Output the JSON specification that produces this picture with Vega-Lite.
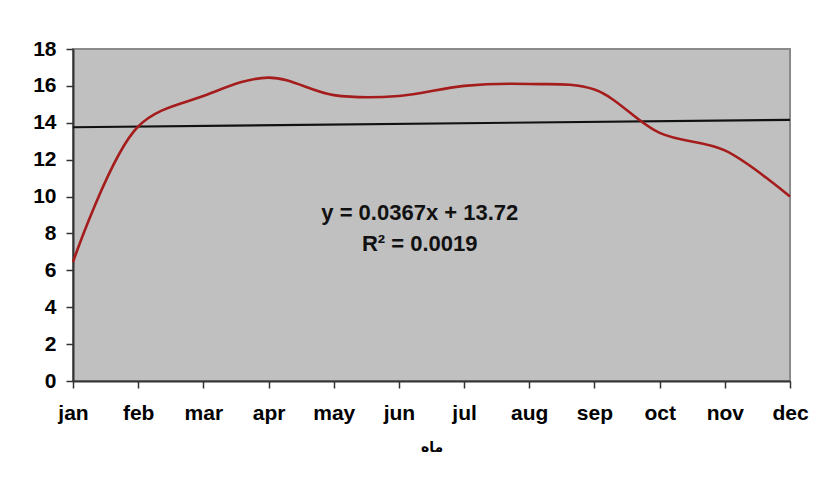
{
  "$schema": "https://vega.github.io/schema/vega-lite/v6.json",
  "width": 717,
  "height": 332,
  "autosize": "none",
  "padding": {"left": 73, "top": 49, "right": 30, "bottom": 101},
  "background": "white",
  "config": {
    "view": {"fill": "#c0c0c0", "stroke": "#8a8a8a", "strokeWidth": 2},
    "font": "Liberation Sans"
  },
  "datasets": {
    "temp": [
      {"m": 1, "month": "jan", "value": 6.45},
      {"m": 2, "month": "feb", "value": 13.8},
      {"m": 3, "month": "mar", "value": 15.45},
      {"m": 4, "month": "apr", "value": 16.45},
      {"m": 5, "month": "may", "value": 15.5},
      {"m": 6, "month": "jun", "value": 15.45},
      {"m": 7, "month": "jul", "value": 16.0},
      {"m": 8, "month": "aug", "value": 16.1},
      {"m": 9, "month": "sep", "value": 15.8},
      {"m": 10, "month": "oct", "value": 13.45},
      {"m": 11, "month": "nov", "value": 12.5},
      {"m": 12, "month": "dec", "value": 10.0}
    ],
    "trend": [
      {"m": 1, "value": 13.757},
      {"m": 12, "value": 14.160}
    ],
    "labels": [
      {"m": 6.32, "value": 9.1, "text": "y = 0.0367x + 13.72"},
      {"m": 6.32, "value": 7.45, "text": "R² = 0.0019"}
    ]
  },
  "encoding": {
    "x": {
      "field": "m",
      "type": "quantitative",
      "scale": {"domain": [1, 12], "nice": false, "zero": false},
      "axis": {
        "title": "ماه",
        "values": [1, 2, 3, 4, 5, 6, 7, 8, 9, 10, 11, 12],
        "labelExpr": "['jan','feb','mar','apr','may','jun','jul','aug','sep','oct','nov','dec'][datum.value - 1]",
        "grid": false,
        "domainColor": "#333333",
        "domainWidth": 2,
        "tickColor": "#333333",
        "tickWidth": 1.5,
        "tickSize": 7,
        "labelPadding": 14,
        "labelFont": "Liberation Sans",
        "labelFontSize": 21,
        "labelFontWeight": "bold",
        "labelColor": "#000000",
        "labelFlush": false,
        "labelOverlap": false,
        "titleFont": "DejaVu Sans",
        "titleFontSize": 14,
        "titleFontWeight": "bold",
        "titleColor": "#000000",
        "titlePadding": 17
      }
    },
    "y": {
      "field": "value",
      "type": "quantitative",
      "scale": {"domain": [0, 18], "nice": false},
      "axis": {
        "title": null,
        "values": [0, 2, 4, 6, 8, 10, 12, 14, 16, 18],
        "grid": false,
        "domainColor": "#333333",
        "domainWidth": 2,
        "tickColor": "#333333",
        "tickWidth": 1.5,
        "tickSize": 7,
        "labelPadding": 10,
        "labelFont": "Liberation Sans",
        "labelFontSize": 21,
        "labelFontWeight": "bold",
        "labelColor": "#000000"
      }
    }
  },
  "layer": [
    {
      "data": {"name": "trend"},
      "mark": {"type": "line", "color": "#111111", "strokeWidth": 2.2}
    },
    {
      "data": {"name": "temp"},
      "mark": {"type": "line", "color": "#a51c1c", "strokeWidth": 2.6, "interpolate": "catmull-rom"}
    },
    {
      "data": {"name": "labels"},
      "mark": {"type": "text", "font": "Liberation Sans", "fontSize": 22, "fontWeight": "bold", "color": "#111111", "align": "center", "baseline": "middle"},
      "encoding": {"text": {"field": "text"}}
    }
  ]
}
